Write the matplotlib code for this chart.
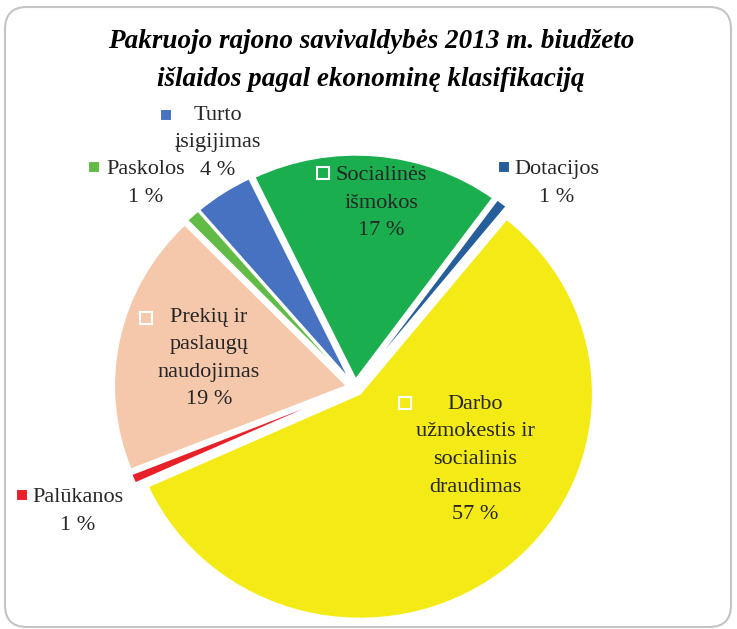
import matplotlib
matplotlib.use("Agg")
from matplotlib import pyplot as plt
from matplotlib.patches import FancyBboxPatch

W, H = 737, 629

title_lines = ["Pakruojo rajono savivaldybės 2013 m. biudžeto",
               "išlaidos pagal ekonominę klasifikaciją"]
categories = ["Dotacijos", "Socialinės\nišmokos", "Turto\nįsigijimas", "Paskolos",
              "Prekių ir\npaslaugų\nnaudojimas", "Palūkanos",
              "Darbo\nužmokestis ir\nsocialinis\ndraudimas"]
# slice sizes (labels show them rounded)
shares = [0.8, 17.2, 4.1, 1.0, 18.8, 0.7, 57.4]
colors = ["#255E9A", "#1BAE4F", "#4672C1", "#62BB47", "#F5C8AC", "#E8202A", "#F4EB16"]

# where each label sits, in image pixels: text centre x, first line y, key x, key y
label_pos = [(557, 167, 504, 167), (381, 173, 323, 173), (218, 113, 166, 115),
             (146, 167, 94, 167), (209, 315, 146, 318), (78, 495, 22, 495),
             (475, 402, 405, 403)]

serif = "Liberation Serif"
fig = plt.figure(figsize=(W / 100, H / 100), dpi=100)

# background with rounded frame
ax_bg = fig.add_axes([0, 0, 1, 1])
ax_bg.set_xlim(0, W)
ax_bg.set_ylim(H, 0)
ax_bg.axis("off")
frame = FancyBboxPatch((5, 7), 726, 620, boxstyle="round,pad=0,rounding_size=22",
                       facecolor="white", edgecolor="#C4C4C4", linewidth=1.5)
ax_bg.add_patch(frame)

# pie (slightly wider than tall, like the original)
cx, cy, rx, ry, pad = 355, 387.5, 233, 225, 1.15
ax_pie = fig.add_axes([(cx - rx * pad) / W, (H - cy - ry * pad) / H,
                       2 * rx * pad / W, 2 * ry * pad / H])
ax_pie.pie(shares, colors=colors, startangle=51, counterclock=True,
           explode=[0.035] * len(shares),
           wedgeprops=dict(edgecolor="white", linewidth=1.5))
ax_pie.set_aspect("auto")
ax_pie.set_xlim(-pad, pad)
ax_pie.set_ylim(-pad, pad)
ax_pie.axis("off")

# labels on top
ax_txt = fig.add_axes([0, 0, 1, 1])
ax_txt.set_xlim(0, W)
ax_txt.set_ylim(H, 0)
ax_txt.axis("off")
ax_txt.patch.set_visible(False)

for i, line in enumerate(title_lines):
    ax_txt.text(371, 48 + i * 38, line, ha="center", va="baseline", fontsize=19.5,
                family=serif, weight="bold", style="italic", color="black")

step = 27.5
for name, val, col, (tx, ty, kx, ky) in zip(categories, shares, colors, label_pos):
    lines = name.split("\n") + [f"{max(1, round(val))} %"]
    for j, line in enumerate(lines):
        ax_txt.text(tx, ty + j * step + 7, line, ha="center", va="baseline",
                    fontsize=16, family=serif, color="#262626")
    ax_txt.plot(kx, ky, marker="s", markersize=8, markerfacecolor=col,
                markeredgecolor="white", markeredgewidth=1.5)

plt.savefig("out.png", dpi=100)
